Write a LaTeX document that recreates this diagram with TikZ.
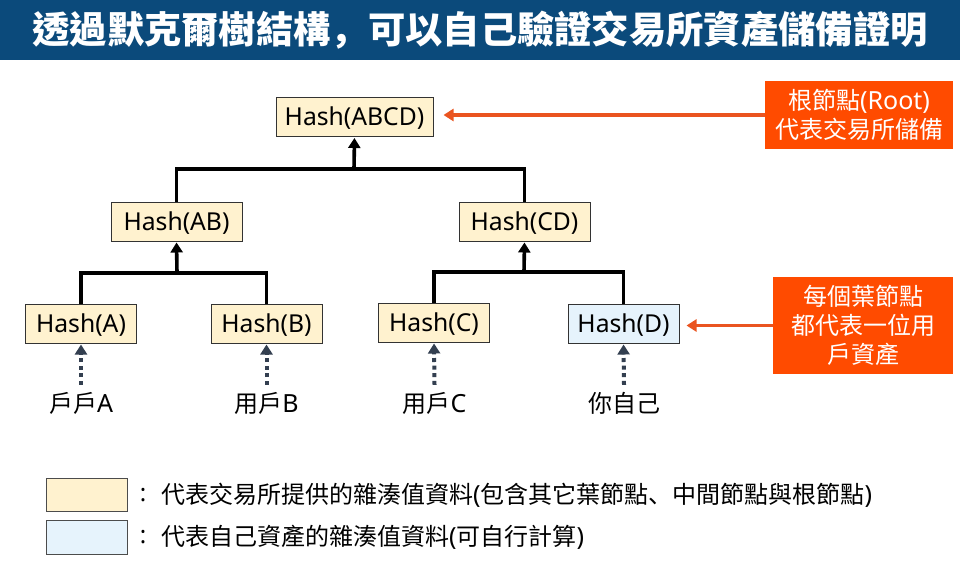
\documentclass[tikz,border=0pt]{standalone}
\usepackage{fontspec}
\setmainfont{Noto Sans CJK TC}
\newfontfamily\latinfont{Noto Sans}
\newfontfamily\punctfont{Noto Sans CJK SC}
\usetikzlibrary{arrows.meta}
\definecolor{titleblue}{HTML}{0B4A7B}
\definecolor{noteorange}{HTML}{FF4B00}
\definecolor{linkorange}{HTML}{EA5420}
\definecolor{hashyellow}{HTML}{FFF2CF}
\definecolor{hashblue}{HTML}{E6F3FC}
\definecolor{dotgray}{HTML}{333F50}
\tikzset{
  hashbox/.style={draw=black!80, line width=1pt, fill=hashyellow, inner sep=0pt, minimum height=39pt, text height=20pt, text depth=3pt, font=\latinfont\fontsize{24.7}{28}\selectfont},
  notebox/.style={fill=noteorange, text=white, inner sep=0pt, align=center, font=\fontsize{24}{29}\selectfont},
  swatch/.style={draw=black!70, line width=1pt, inner sep=0pt, minimum width=81pt, minimum height=33pt},
  usertext/.style={inner sep=0pt, minimum height=36pt, font=\fontsize{24}{28}\selectfont},
  legendtext/.style={anchor=west, inner sep=0pt, font=\fontsize{24}{28}\selectfont},
  treelink/.style={line width=3.6pt},
  uplink/.style={line width=3.6pt, -{Triangle[width=12pt,length=10pt]}, shorten >=1pt},
  dotlink/.style={dotgray, line width=4pt, dash pattern=on 4pt off 3.6pt, -{Triangle[width=12pt,length=10pt]}, shorten >=1pt},
  notelink/.style={linkorange, line width=3.4pt, -{Triangle[width=12pt,length=10pt]}}
}
\newcommand{\lat}[1]{{\latinfont\fontsize{25}{28}\selectfont #1}}
\begin{document}
\begin{tikzpicture}[x=1pt,y=-1pt]
  \useasboundingbox (0,0) rectangle (960,563);

  %barra del titolo
  \fill [titleblue] (0,0) rectangle (960,60);
  \node (title) at (480,30) [text=white, inner sep=0pt, font=\bfseries\fontsize{37.3}{40}\selectfont] {透過默克爾樹結構{\punctfont，}可以自己驗證交易所資產儲備證明};

  %hash
  \node (habcd) at (354.5,117) [hashbox, minimum width=157pt] {Hash(ABCD)};
  \node (hab) at (176.5,221.5) [hashbox, minimum width=131pt] {Hash(AB)};
  \node (hcd) at (524.5,221.5) [hashbox, minimum width=131pt] {Hash(CD)};
  \node (ha) at (81,323.5) [hashbox, minimum width=111pt] {Hash(A)};
  \node (hb) at (266.5,323.5) [hashbox, minimum width=111pt] {Hash(B)};
  \node (hc) at (434,322.5) [hashbox, minimum width=111pt] {Hash(C)};
  \node (hd) at (623.5,323.5) [hashbox, fill=hashblue, minimum width=111pt] {Hash(D)};

  %punti di giunzione
  \coordinate (jroot) at (354,169);
  \coordinate (jleft) at (177,273);
  \coordinate (jright) at (524,272);

  %albero
  \draw [treelink] (hab.north) |- (jroot) -| (hcd.north);
  \draw [uplink] (jroot) -- (habcd.south);
  \draw [treelink] (ha.north) |- (jleft) -| (hb.north);
  \draw [uplink] (jleft) -- (hab.south);
  \draw [treelink] (hc.north) |- (jright) -| (hd.north);
  \draw [uplink] (jright) -- (hcd.south);

  %utenti
  \node (ua) at (81,403) [usertext] {戶戶\lat{A}};
  \node (ub) at (266.5,403) [usertext] {用戶\lat{B}};
  \node (uc) at (434.5,403) [usertext] {用戶\lat{C}};
  \node (ud) at (624,403) [usertext] {你自己};
  \draw [dotlink] (ua.north) -- (ha.south);
  \draw [dotlink] (ub.north) -- (hb.south);
  \draw [dotlink] (uc.north) -- (hc.south);
  \draw [dotlink] (ud.north) -- (hd.south);

  %note arancioni
  \node (rootnote) at (859,115) [notebox, minimum width=188pt, minimum height=68pt] {根節點\lat{(Root)}\\代表交易所儲備};
  \node (leafnote) at (863,325.5) [notebox, minimum width=180pt, minimum height=97pt] {每個葉節點\\都代表一位用\\戶資產};
  \draw [notelink, shorten >=10pt] (rootnote.west) -- (habcd.east |- rootnote.west);
  \draw [notelink, shorten >=7pt] (leafnote.west) -- (hd.east |- leafnote.west);

  %legenda
  \node (swyellow) at (86.5,494.5) [swatch, fill=hashyellow] {};
  \node (swblue) at (86.5,537) [swatch, fill=hashblue, minimum height=34pt] {};
  \node (colonyellow) at (143,495) [inner sep=0pt, font=\latinfont\fontsize{24}{28}\selectfont] {:};
  \node (colonblue) at (143,537) [inner sep=0pt, font=\latinfont\fontsize{24}{28}\selectfont] {:};
  \node (textyellow) at (161,495) [legendtext] {代表交易所提供的雜湊值資料\lat{(}包含其它葉節點{\punctfont、}中間節點與根節點\lat{)}};
  \node (textblue) at (161,537) [legendtext] {代表自己資產的雜湊值資料\lat{(}可自行計算\lat{)}};
\end{tikzpicture}
\end{document}
